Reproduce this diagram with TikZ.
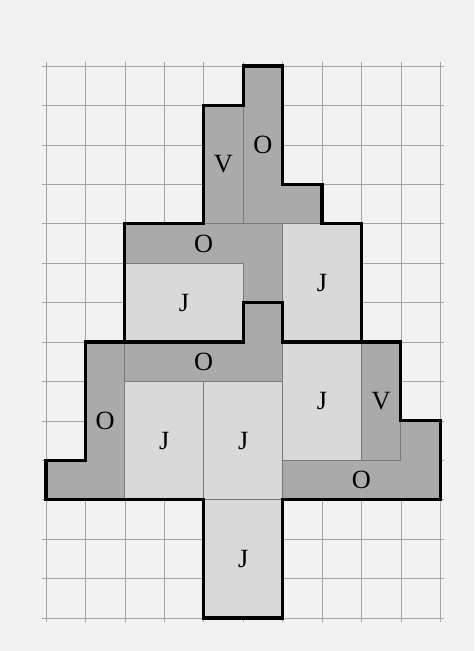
\documentclass[tikz,border=0pt]{standalone}
\usepackage{fontspec}
\setmainfont{Liberation Serif}
\usepackage{tikz}
\usepackage[dvipsnames]{xcolor}
\definecolor{paper}{HTML}{F2F2F2}
\definecolor{gridgray}{HTML}{A3A3A3}
\definecolor{darkpc}{HTML}{AAAAAA}
\definecolor{lightpc}{HTML}{D9D9D9}
\definecolor{seamgray}{HTML}{7A7A7A}

\begin{document}
\begin{tikzpicture}[
  darkpiece/.style={line width=0.6pt, draw=seamgray, fill=darkpc},
  lightpiece/.style={line width=0.6pt, draw=seamgray, fill=lightpc},
  outline/.style={line width=2.2pt, line cap=rect},
  lbl/.style={font=\fontsize{19}{22}\selectfont}]
  \fill[paper] (-1.167,-0.837) rectangle (10.855,15.674);
  \useasboundingbox (-1.167,-0.837) rectangle (10.855,15.674);
  \draw[line width=0.5pt, gridgray] (-0.1,-0.1) grid (10.1,14.1);
  % top tier
  \filldraw[darkpiece] (4,10) rectangle (5,13);
  \filldraw[darkpiece] (5,10) -- (5,14) -- (6,14) -- (6,11) -- (7,11) -- (7,10) -- cycle;
  % middle tier
  \filldraw[darkpiece] (2,9) -- (2,10) -- (6,10) -- (6,8) -- (5,8) -- (5,9) -- cycle;
  \filldraw[lightpiece] (2,7) rectangle (5,9);
  \filldraw[lightpiece] (6,7) rectangle (8,10);
  % bottom tier
  \filldraw[darkpiece] (1,7) -- (2,7) -- (2,3) -- (0,3) -- (0,4) -- (1,4) -- cycle;
  \filldraw[darkpiece] (2,6) -- (2,7) -- (5,7) -- (5,8) -- (6,8) -- (6,6) -- cycle;
  \filldraw[lightpiece] (2,3) rectangle (4,6);
  \filldraw[lightpiece] (4,3) rectangle (6,6);
  \filldraw[lightpiece] (6,4) rectangle (8,7);
  \filldraw[darkpiece] (8,4) rectangle (9,7);
  \filldraw[darkpiece] (6,3) -- (6,4) -- (9,4) -- (9,5) -- (10,5) -- (10,3) -- cycle;
  % trunk
  \filldraw[lightpiece] (4,0) rectangle (6,3);
  % thick edges
  \draw[outline] (5,14) -- (6,14) -- (6,11) -- (7,11) -- (7,10) -- (8,10) -- (8,7) -- (9,7)
    -- (9,5) -- (10,5) -- (10,3) -- (6,3) -- (6,0) -- (4,0) -- (4,3) -- (0,3) -- (0,4)
    -- (1,4) -- (1,7) -- (2,7) -- (2,10) -- (4,10) -- (4,13) -- (5,13) -- cycle;
  \draw[outline] (2,7) -- (5,7) -- (5,8) -- (6,8) -- (6,7) -- (8,7);
  % letters
  \node[lbl] (v1) at (4.5,11.5) {V};
  \node[lbl] (o1) at (5.5,12) {O};
  \node[lbl] (o2) at (4,9.5) {O};
  \node[lbl] (j2a) at (3.5,8) {J};
  \node[lbl] (j2b) at (7,8.5) {J};
  \node[lbl] (o3b) at (4,6.5) {O};
  \node[lbl] (o3a) at (1.5,5) {O};
  \node[lbl] (j3a) at (3,4.5) {J};
  \node[lbl] (j3b) at (5,4.5) {J};
  \node[lbl] (j3c) at (7,5.5) {J};
  \node[lbl] (v3) at (8.5,5.5) {V};
  \node[lbl] (o3c) at (8,3.5) {O};
  \node[lbl] (j4) at (5,1.5) {J};
\end{tikzpicture}
\end{document}
